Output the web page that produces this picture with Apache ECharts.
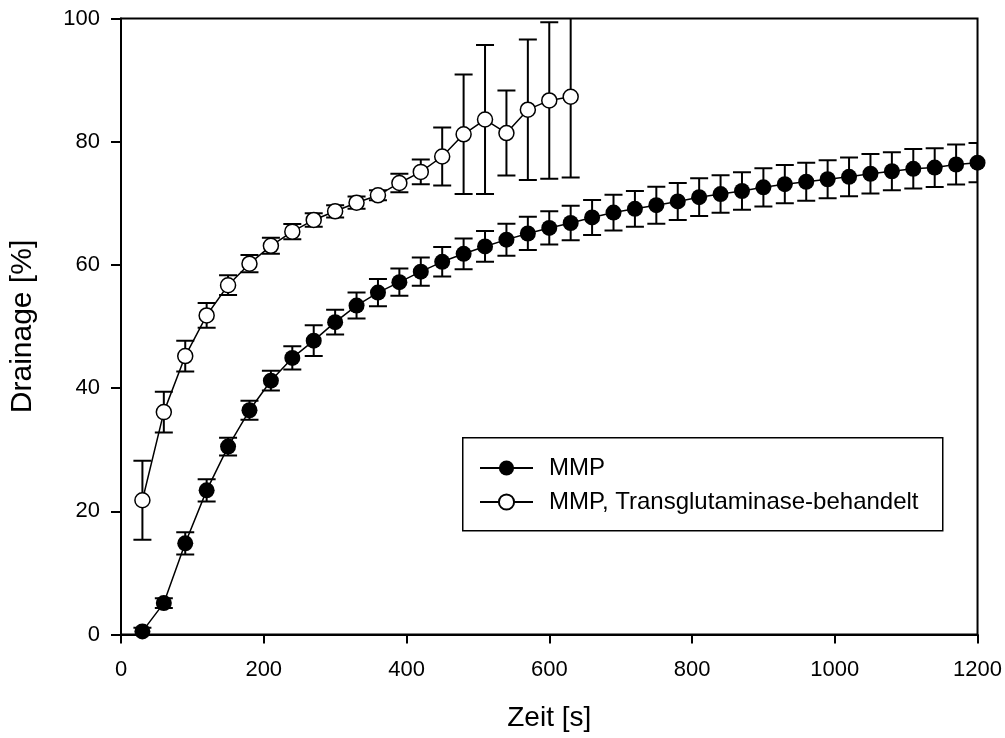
<!DOCTYPE html>
<html>
<head>
<meta charset="utf-8">
<script src="https://cdn.jsdelivr.net/npm/echarts@6/dist/echarts.min.js"></script>
<style>
html,body{margin:0;padding:0;background:#fff;}
#chart{width:1005px;height:738px;}
</style>
</head>
<body>
<div id="chart"></div>
<script>
// ---- data ----
var timeMMP = [30,60,90,120,150,180,210,240,270,300,330,360,390,420,450,480,510,540,570,600,630,660,690,720,750,780,810,840,870,900,930,960,990,1020,1050,1080,1110,1140,1170,1200];
var valMMP = [0.5,5.1,14.8,23.4,30.5,36.4,41.2,44.9,47.7,50.7,53.4,55.5,57.2,58.9,60.5,61.8,63.0,64.1,65.1,66.0,66.8,67.7,68.5,69.1,69.7,70.3,71.0,71.5,72.0,72.6,73.1,73.5,73.9,74.3,74.8,75.2,75.6,75.8,76.3,76.6];
var errMMP = [0.6,0.8,1.8,1.8,1.45,1.55,1.6,1.9,2.5,2.0,2.1,2.2,2.2,2.3,2.4,2.5,2.5,2.6,2.7,2.7,2.8,2.85,2.9,2.9,3.0,3.0,3.05,3.05,3.05,3.1,3.1,3.1,3.1,3.15,3.2,3.1,3.2,3.15,3.25,3.2];

var timeTG = [30,60,90,120,150,180,210,240,270,300,330,360,390,420,450,480,510,540,570,600,630];
var valTG = [21.8,36.1,45.2,51.8,56.7,60.2,63.1,65.4,67.3,68.7,70.1,71.3,73.3,75.1,77.6,81.2,83.6,81.4,85.2,86.7,87.3];
var errTG = [6.4,3.3,2.5,2.0,1.6,1.4,1.3,1.25,1.1,1.0,1.0,0.8,1.5,2.0,4.7,9.7,12.1,6.9,11.4,12.7,13.1];

var nameMMP = 'MMP';
var nameTG = 'MMP, Transglutaminase-behandelt';
var xTitle = 'Zeit [s]';
var yTitle = 'Drainage [%]';

// ---- build ----
function pairs(t, v) { return t.map(function (x, i) { return [x, v[i]]; }); }
function errData(t, v, e) { return t.map(function (x, i) { return [x, v[i] - e[i], v[i] + e[i]]; }); }

function errRender(params, api) {
  var x = api.value(0);
  var lo = api.coord([x, api.value(1)]);
  var hi = api.coord([x, api.value(2)]);
  var hw = 9;
  var st = { stroke: '#000', lineWidth: 2 };
  return {
    type: 'group',
    children: [
      { type: 'line', shape: { x1: lo[0], y1: lo[1], x2: hi[0], y2: hi[1] }, style: st },
      { type: 'line', shape: { x1: lo[0] - hw, y1: lo[1], x2: lo[0] + hw, y2: lo[1] }, style: st },
      { type: 'line', shape: { x1: hi[0] - hw, y1: hi[1], x2: hi[0] + hw, y2: hi[1] }, style: st }
    ]
  };
}

var FONT = '"Liberation Sans", Arial, sans-serif';
var chart = echarts.init(document.getElementById('chart'), null, { renderer: 'canvas' });

var option = {
  animation: false,
  backgroundColor: '#fff',
  grid: { left: 121, right: 27, top: 18.5, bottom: 103.5, show: true, borderColor: '#000', borderWidth: 2, backgroundColor: 'transparent' },
  xAxis: {
    type: 'value', min: 0, max: 1200, interval: 200,
    name: xTitle, nameLocation: 'middle', nameGap: 70,
    nameTextStyle: { fontFamily: FONT, fontSize: 28, color: '#000' },
    axisLine: { show: true, onZero: false, lineStyle: { color: '#000', width: 2 } },
    axisTick: { show: true, inside: false, length: 9, lineStyle: { color: '#000', width: 2 } },
    axisLabel: { fontFamily: FONT, fontSize: 22, color: '#000', margin: 24, formatter: function (v) { return String(v); } },
    splitLine: { show: false }
  },
  yAxis: {
    type: 'value', min: 0, max: 100, interval: 20,
    name: yTitle, nameLocation: 'middle', nameGap: 83, nameRotate: 90,
    nameTextStyle: { fontFamily: FONT, fontSize: 30, color: '#000' },
    axisLine: { show: true, onZero: false, lineStyle: { color: '#000', width: 2 } },
    axisTick: { show: true, inside: false, length: 10, lineStyle: { color: '#000', width: 2 } },
    axisLabel: { fontFamily: FONT, fontSize: 22, color: '#000', margin: 21, formatter: function (v) { return String(v); } },
    splitLine: { show: false }
  },
  legend: {
    orient: 'vertical', left: 479, top: 456, padding: 0,
    itemWidth: 53, itemHeight: 19, itemGap: 10,
    textStyle: { fontFamily: FONT, fontSize: 24, color: '#000', padding: [0, 0, 0, 11] },
    data: [nameMMP, nameTG]
  },
  graphic: [
    { type: 'rect', left: 462, top: 437, shape: { width: 480, height: 93 }, style: { fill: 'transparent', stroke: '#000', lineWidth: 1.5 }, z: 100 }
  ],
  series: [
    { type: 'custom', name: 'errMMP', renderItem: errRender, data: errData(timeMMP, valMMP, errMMP), z: 1, clip: true, encode: { x: 0, y: [1, 2] } },
    { type: 'custom', name: 'errTG', renderItem: errRender, data: errData(timeTG, valTG, errTG), z: 1, clip: true, encode: { x: 0, y: [1, 2] } },
    {
      type: 'line', name: nameMMP, data: pairs(timeMMP, valMMP), z: 3,
      symbol: 'circle', symbolSize: 16, showAllSymbol: true,
      lineStyle: { color: '#000', width: 1.5 },
      itemStyle: { color: '#000', borderColor: '#000', borderWidth: 0 }
    },
    {
      type: 'line', name: nameTG, data: pairs(timeTG, valTG), z: 3,
      symbol: 'circle', symbolSize: 15, showAllSymbol: true,
      lineStyle: { color: '#000', width: 1.5 },
      itemStyle: { color: '#fff', borderColor: '#000', borderWidth: 1.5 }
    }
  ]
};
chart.setOption(option);
</script>
</body>
</html>
